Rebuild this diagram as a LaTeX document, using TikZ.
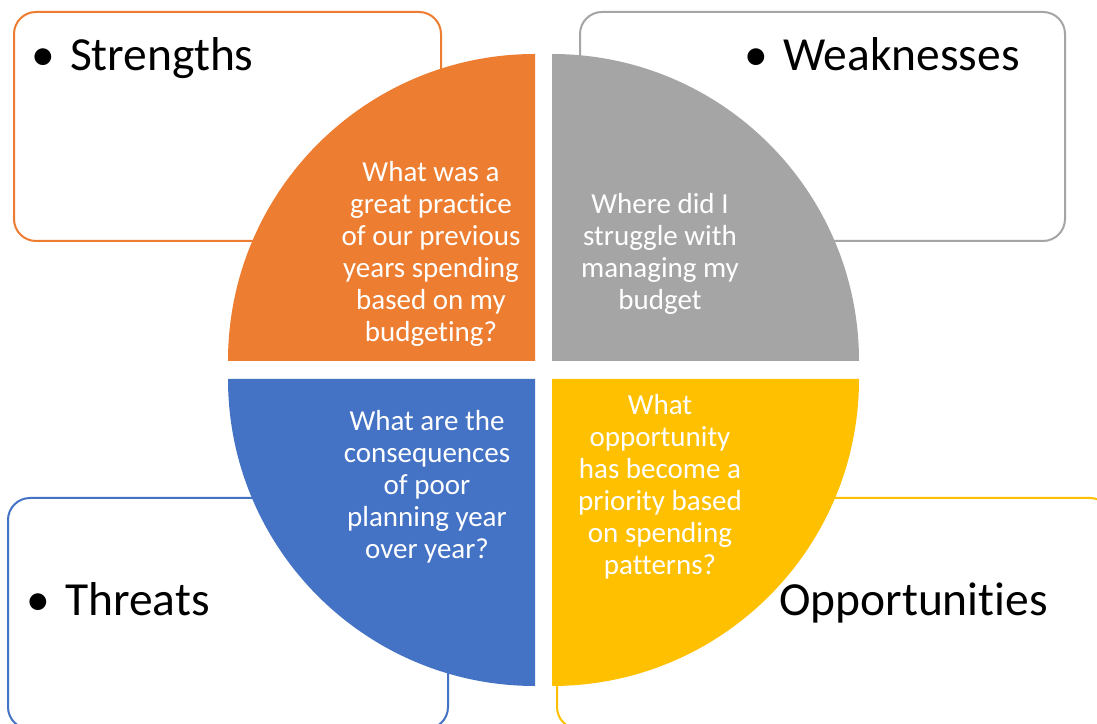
\documentclass[tikz,border=0pt]{standalone}
\usepackage{fontspec}
\setmainfont{Carlito}[Ligatures={NoCommon,NoRare,NoContextual}]
\definecolor{sorange}{HTML}{ED7D31}
\definecolor{sgray}{HTML}{A5A5A5}
\definecolor{sblue}{HTML}{4472C4}
\definecolor{syellow}{HTML}{FFC000}
\tikzset{
  swotbox/.style={line width=2pt, rounded corners=22pt, fill=white},
  qtext/.style={text=white, align=center, font=\fontsize{29}{32}\selectfont, inner sep=0pt},
  lbl/.style={text=black, anchor=base west, font=\fontsize{47.5}{56}\selectfont, inner sep=0pt},
}
\newcommand{\bul}{\llap{\textbullet\hspace{15pt}}}
\begin{document}
\begin{tikzpicture}[x=1pt,y=1pt]
\useasboundingbox (0,0) rectangle (1097,723);
\clip (0,0) rectangle (1097,723);
\fill[white] (0,0) rectangle (1097,723);
% boxes
\draw[swotbox, draw=sorange] (14,482) rectangle (441,711);
\draw[swotbox, draw=sgray] (580,482) rectangle (1065,711);
\draw[swotbox, draw=sblue] (8,-6) rectangle (448,225);
\draw[swotbox, draw=syellow] (557,-6) rectangle (1112,225);
% quarters
\fill[sorange] (535,362) -- (228,362) arc[start angle=180,end angle=90,radius=307] -- cycle;
\fill[sgray] (552,362) -- (552,669) arc[start angle=90,end angle=0,radius=307] -- cycle;
\fill[sblue] (535,344) -- (228,344) arc[start angle=180,end angle=270,radius=307] -- cycle;
\fill[syellow] (552,344) -- (859,344) arc[start angle=0,end angle=-90,radius=307] -- cycle;
% quarter texts
\node[qtext] (qs) at (431,469) {What was a\\great practice\\of our previous\\years spending\\based on my\\budgeting?};
\node[qtext] (qw) at (660,469) {Where did I\\struggle with\\managing my\\budget};
\node[qtext] (qt) at (427,236) {What are the\\consequences\\of poor\\planning year\\over year?};
\node[qtext] (qo) at (660,236) {What\\opportunity\\has become a\\priority based\\on spending\\patterns?};
% labels
\node[lbl] (ls) at (70,652) {\bul Strengths};
\node[lbl] (lw) at (783,652) {\bul Weaknesses};
\node[lbl] (lt) at (65,108) {\bul Threats};
\node[lbl] (lo) at (779,108) {Opportunities};
\end{tikzpicture}
\end{document}
